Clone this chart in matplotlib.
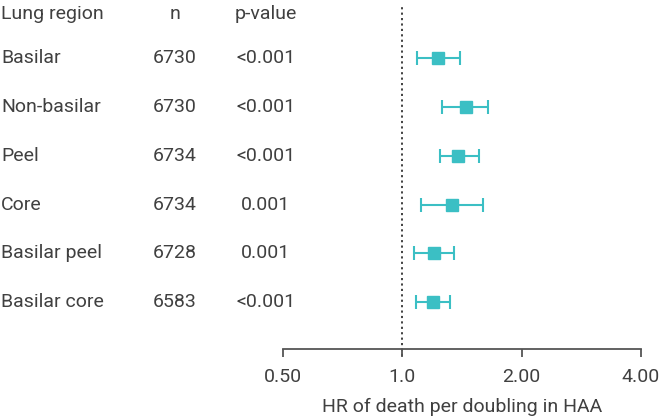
import numpy as np
import matplotlib
matplotlib.use("Agg")
import matplotlib.pyplot as plt
import matplotlib.transforms as mtransforms
from matplotlib.ticker import FixedLocator, NullLocator

# data
regions = ["Basilar", "Non-basilar", "Peel", "Core", "Basilar peel", "Basilar core"]
n_vals = [6730, 6730, 6734, 6734, 6728, 6583]
p_vals = ["<0.001", "<0.001", "<0.001", "0.001", "0.001", "<0.001"]
hr = [1.233, 1.450, 1.380, 1.332, 1.202, 1.193]
hr_lo = [1.091, 1.262, 1.245, 1.117, 1.072, 1.084]
hr_hi = [1.396, 1.645, 1.561, 1.595, 1.350, 1.317]
ticks = [0.5, 1.0, 2.0, 4.0]
tick_labels = ["0.50", "1.0", "2.00", "4.00"]

txt = "#404040"
teal = "#3bbfc4"
plt.rcParams['font.family'] = ['Roboto', 'DejaVu Sans']

W, H = 666, 418
fig = plt.figure(figsize=(W / 100, H / 100), dpi=100)
ax = fig.add_axes([283 / W, 1 - 349 / H, (641 - 283) / W, 349 / H])

y = np.arange(len(regions))
hr = np.array(hr)
err = np.vstack([hr - np.array(hr_lo), np.array(hr_hi) - hr])
ax.errorbar(hr, y, xerr=err, fmt='s', color=teal, ms=8, elinewidth=1.5,
            capsize=4.8, capthick=1.5, zorder=3)

ax.axvline(1.0, ymin=-0.02, ymax=0.985, ls=(0, (1.2, 1.8)), color="#333333",
           lw=1.3, clip_on=False, zorder=1)

ax.set_xscale('log')
ax.set_xlim(0.5, 4.0)
ax.set_ylim(5.96, -1.19)
ax.xaxis.set_major_locator(FixedLocator(ticks))
ax.xaxis.set_minor_locator(NullLocator())
ax.set_xticklabels(tick_labels)
ax.set_yticks([])
for s in ['top', 'right', 'left']:
    ax.spines[s].set_visible(False)
ax.spines['bottom'].set_color("#555555")
ax.spines['bottom'].set_linewidth(1.3)
fs = 14
ax.tick_params(axis='x', direction='out', length=5.5, width=1.3, color="#555555",
               labelsize=fs, labelcolor=txt, pad=8)
ax.set_xlabel("HR of death per doubling in HAA", fontsize=fs, color=txt, labelpad=9)

# text columns on the left, positioned in figure x / data y
tr = mtransforms.blended_transform_factory(fig.transFigure, ax.transData)
header_y = -0.9
ax.text(1 / W, header_y, "Lung region", transform=tr, ha='left', va='center',
        fontsize=fs, color=txt, clip_on=False)
ax.text(175 / W, header_y, "n", transform=tr, ha='center', va='center',
        fontsize=fs, color=txt, clip_on=False)
ax.text(266 / W, header_y, "p-value", transform=tr, ha='center', va='center',
        fontsize=fs, color=txt, clip_on=False)
for i in range(len(regions)):
    ax.text(1 / W, y[i], regions[i], transform=tr, ha='left', va='center',
            fontsize=fs, color=txt, clip_on=False)
    ax.text(175 / W, y[i], str(n_vals[i]), transform=tr, ha='center', va='center',
            fontsize=fs, color=txt, clip_on=False)
    ax.text(266 / W, y[i], p_vals[i], transform=tr, ha='center', va='center',
            fontsize=fs, color=txt, clip_on=False)

fig.savefig("out.png", dpi=100)
